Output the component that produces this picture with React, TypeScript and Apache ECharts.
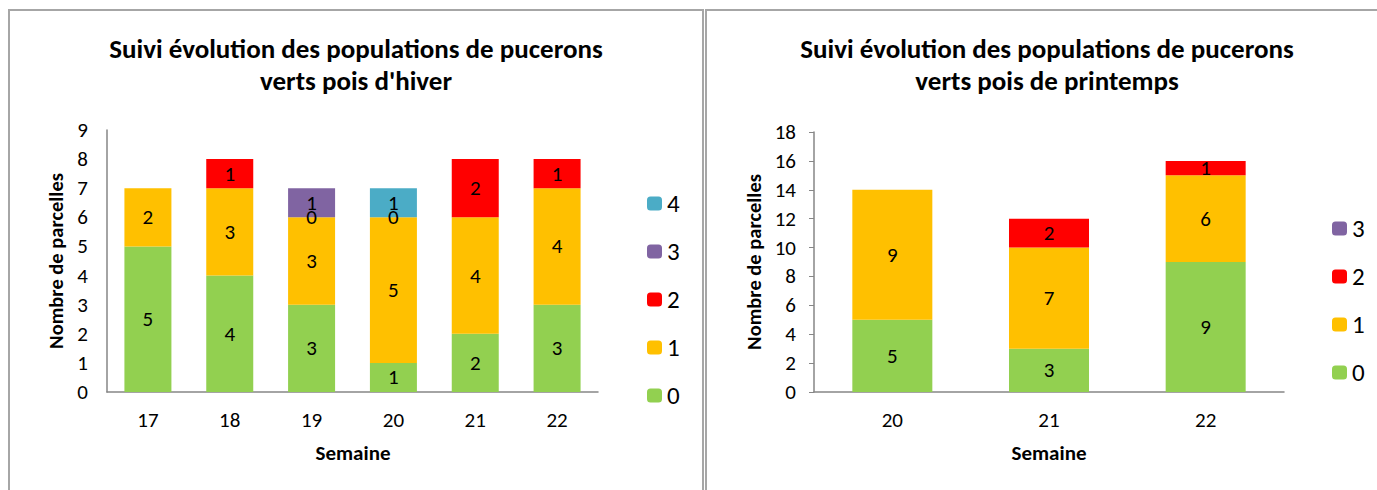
import React, { useEffect, useRef } from "react";
import * as echarts from "echarts";

const FONT = "Carlito, Calibri, Lato, sans-serif";

const weeksHiver = ["17", "18", "19", "20", "21", "22"];
const hiver0 = [5, 4, 3, 1, 2, 3];
const hiver1 = [2, 3, 3, 5, 4, 4];
const hiver2 = [null, 1, 0, 0, 2, 1];
const hiver3 = [null, null, 1, null, null, null];
const hiver4 = [null, null, null, 1, null, null];

const weeksPrint = ["20", "21", "22"];
const print0 = [5, 3, 9];
const print1 = [9, 7, 6];
const print2 = [null, 2, 1];
const print3 = [null, null, null];

const levelNames = ["0", "1", "2", "3", "4"];
const colors = ["#92D050", "#FFC000", "#FF0000", "#8064A2", "#4BACC6"];

const titleHiver = "Suivi évolution des populations de pucerons\nverts pois d'hiver";
const titlePrint = "Suivi évolution des populations de pucerons\nverts pois de printemps";
const yName = "Nombre de parcelles";
const xName = "Semaine";

export default function App() {
  const ref = useRef<HTMLDivElement>(null);
  useEffect(() => {
    document.body.style.margin = "0";
    const chart = echarts.init(ref.current!, null, { renderer: "svg" });
    const hiverData = [hiver0, hiver1, hiver2, hiver3, hiver4];
    const printData = [print0, print1, print2, print3];
    const label = { show: true, position: "inside", color: "#000", fontSize: 21, fontFamily: FONT };
    const series: any[] = [];
    hiverData.forEach((d, i) => {
      series.push({
        type: "bar", name: levelNames[i], stack: "h", xAxisIndex: 0, yAxisIndex: 0,
        data: d, barWidth: 47, itemStyle: { color: colors[i] }, label,
      });
    });
    printData.forEach((d, i) => {
      series.push({
        type: "bar", name: levelNames[i], stack: "p", xAxisIndex: 1, yAxisIndex: 1,
        data: d, barWidth: 80, itemStyle: { color: colors[i] }, label,
      });
    });
    const axisLine = { show: true, lineStyle: { color: "#868686", width: 1.5 } };
    const axisLabel = { color: "#000", fontSize: 21, fontFamily: FONT };
    const border = { stroke: "#A6A6A6", lineWidth: 2 };
    const textCommon = { fill: "#000", fontFamily: FONT, fontWeight: "bold" };
    const legendText = { color: "#000", fontSize: 25, fontFamily: FONT, lineHeight: 22 };
    chart.setOption({
      animation: false,
      grid: [
        { left: 107, top: 130, width: 491, height: 262 },
        { left: 814, top: 132, width: 470, height: 260 },
      ],
      xAxis: [
        { type: "category", gridIndex: 0, data: weeksHiver, axisLine, axisTick: { show: false }, axisLabel: { ...axisLabel, margin: 17 } },
        { type: "category", gridIndex: 1, data: weeksPrint, axisLine, axisTick: { show: false }, axisLabel: { ...axisLabel, margin: 17 } },
      ],
      yAxis: [
        { type: "value", gridIndex: 0, min: 0, max: 9, interval: 1, axisLine, axisTick: { show: false }, splitLine: { show: false }, axisLabel: { ...axisLabel, margin: 19 } },
        { type: "value", gridIndex: 1, min: 0, max: 18, interval: 2, axisLine, axisTick: { show: true, length: 5, lineStyle: { color: "#868686" } }, splitLine: { show: false }, axisLabel: { ...axisLabel, margin: 18 } },
      ],
      legend: [
        {
          data: ["4", "3", "2", "1", "0"], orient: "vertical", left: 642, top: 186,
          itemWidth: 15, itemHeight: 14, itemGap: 23, selectedMode: false,
          textStyle: legendText,
        },
        {
          data: ["3", "2", "1", "0"], orient: "vertical", left: 1327, top: 211,
          itemWidth: 15, itemHeight: 14, itemGap: 23, selectedMode: false,
          textStyle: legendText,
        },
      ],
      graphic: [
        { type: "line", shape: { x1: 9, y1: 10, x2: 9, y2: 500 }, style: border },
        { type: "line", shape: { x1: 8, y1: 10, x2: 704, y2: 10 }, style: border },
        { type: "line", shape: { x1: 703, y1: 10, x2: 703, y2: 500 }, style: border },
        { type: "line", shape: { x1: 706, y1: 10, x2: 706, y2: 500 }, style: border },
        { type: "line", shape: { x1: 705, y1: 10, x2: 1380, y2: 10 }, style: border },
        { type: "text", x: 356, y: 64, style: { ...textCommon, text: titleHiver, fontSize: 27, lineHeight: 32, align: "center", verticalAlign: "middle" } },
        { type: "text", x: 1047, y: 64, style: { ...textCommon, text: titlePrint, fontSize: 27, lineHeight: 32, align: "center", verticalAlign: "middle" } },
        { type: "text", x: 56, y: 261, rotation: Math.PI / 2, style: { ...textCommon, text: yName, fontSize: 20.5, align: "center", verticalAlign: "middle" } },
        { type: "text", x: 754, y: 262, rotation: Math.PI / 2, style: { ...textCommon, text: yName, fontSize: 20.5, align: "center", verticalAlign: "middle" } },
        { type: "text", x: 353, y: 453, style: { ...textCommon, text: xName, fontSize: 21, align: "center", verticalAlign: "middle" } },
        { type: "text", x: 1049, y: 453, style: { ...textCommon, text: xName, fontSize: 21, align: "center", verticalAlign: "middle" } },
      ],
      series,
    });
    return () => chart.dispose();
  }, []);
  return <div ref={ref} style={{ position: "fixed", left: 0, top: 0, width: 1377, height: 490, background: "#fff" }} />;
}
